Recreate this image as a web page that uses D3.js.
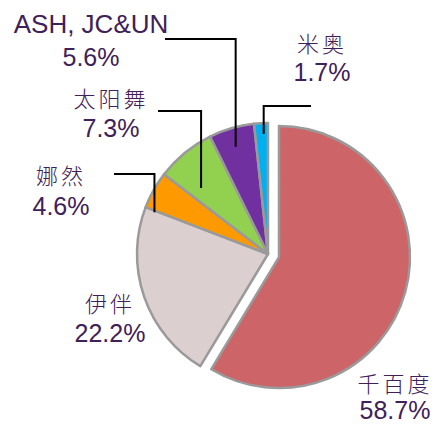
<!DOCTYPE html>
<html>
<head>
<meta charset="utf-8">
<script src="https://cdn.jsdelivr.net/npm/d3@7"></script>
<style>
  body { margin: 0; background: #fff; }
  svg { display: block; }
</style>
</head>
<body>
<div id="chart"></div>
<script>
'use strict';

// data
var brands = ['千百度', '伊伴', '娜然', '太阳舞', 'ASH, JC&UN', '米奥'];
var shares = [58.7, 22.2, 4.6, 7.3, 5.6, 1.7];
var colors = ['#CD6467', '#DCCFCF', '#FF9900', '#92D050', '#7030A0', '#00B0F0'];

// label layout (screen coords), leader: start x/y of horizontal part, end at angle offset / radius
var labelPos = {
  '千百度':     { x: 395, nameY: 382, pctY: 419 },
  '伊伴':       { x: 110, nameY: 302, pctY: 342 },
  '娜然':       { x: 61,  nameY: 174, pctY: 215, lx: 114, ly: 174, da: -9,   r: 121 },
  '太阳舞':     { x: 111, nameY: 97,  pctY: 137, lx: 158, ly: 111, da: -6,   r: 94 },
  'ASH, JC&UN': { x: 91,  nameY: 33,  pctY: 66,  lx: 165, ly: 39,  da: -0.6, r: 112, latin: true },
  '米奥':       { x: 322, nameY: 42,  pctY: 81,  lx: 311, ly: 106, da: 1,    r: 120 }
};

var width = 437, height = 425;
var cx = 268, cy = 254, radius = 131, explode = 11.4;
var textColor = '#402058';

var svg = d3.select('#chart').append('svg')
  .attr('width', width).attr('height', height);

var rows = brands.map(function (b, i) {
  return { name: b, value: shares[i], color: colors[i] };
});

var pie = d3.pie().sort(null).value(function (d) { return d.value; });
var arc = d3.arc().innerRadius(0).outerRadius(radius);
var arcs = pie(rows);

var g = svg.append('g').attr('transform', 'translate(' + cx + ',' + cy + ')');

g.selectAll('path.slice').data(arcs).enter().append('path')
  .attr('class', 'slice')
  .attr('d', arc)
  .attr('transform', function (d, i) {
    if (i !== 0) return null;
    var mid = (d.startAngle + d.endAngle) / 2;
    return 'translate(' + (Math.sin(mid) * explode) + ',' + (-Math.cos(mid) * explode) + ')';
  })
  .style('fill', function (d) { return d.data.color; })
  .style('stroke', '#9A9A9A')
  .style('stroke-width', 2.5)
  .style('stroke-linejoin', 'round');

// leader lines
arcs.forEach(function (d) {
  var p = labelPos[d.data.name];
  if (p.lx === undefined) return;
  var a = (d.startAngle + d.endAngle) / 2 + p.da * Math.PI / 180;
  var ex = cx + Math.sin(a) * p.r;
  var ey = cy - Math.cos(a) * p.r;
  svg.append('polyline')
    .attr('points', [[p.lx, p.ly], [ex, p.ly], [ex, ey]].map(function (q) { return q.join(','); }).join(' '))
    .style('fill', 'none')
    .style('stroke', '#000')
    .style('stroke-width', 2);
});

// labels
var labels = svg.selectAll('g.label').data(arcs).enter().append('g').attr('class', 'label');

labels.append('text')
  .attr('x', function (d) { return labelPos[d.data.name].x; })
  .attr('y', function (d) { return labelPos[d.data.name].nameY; })
  .attr('text-anchor', 'middle')
  .attr('dominant-baseline', function (d) { return labelPos[d.data.name].latin ? 'auto' : 'central'; })
  .style('font-family', function (d) {
    return labelPos[d.data.name].latin ? '"Liberation Sans", Arial, sans-serif' : '"Noto Sans CJK SC", sans-serif';
  })
  .style('font-size', function (d) { return labelPos[d.data.name].latin ? '26px' : '22px'; })
  .style('letter-spacing', function (d) { return labelPos[d.data.name].latin ? '0px' : '3px'; })
  .style('font-weight', function (d) { return labelPos[d.data.name].latin ? 'normal' : '300'; })
  .style('fill', textColor)
  .text(function (d) { return d.data.name; });

labels.append('text')
  .attr('x', function (d) { return labelPos[d.data.name].x; })
  .attr('y', function (d) { return labelPos[d.data.name].pctY; })
  .attr('text-anchor', 'middle')
  .style('font-family', '"Liberation Sans", Arial, sans-serif')
  .style('font-size', '25px')
  .style('fill', textColor)
  .text(function (d) { return d.data.value.toFixed(1) + '%'; });
</script>
</body>
</html>
